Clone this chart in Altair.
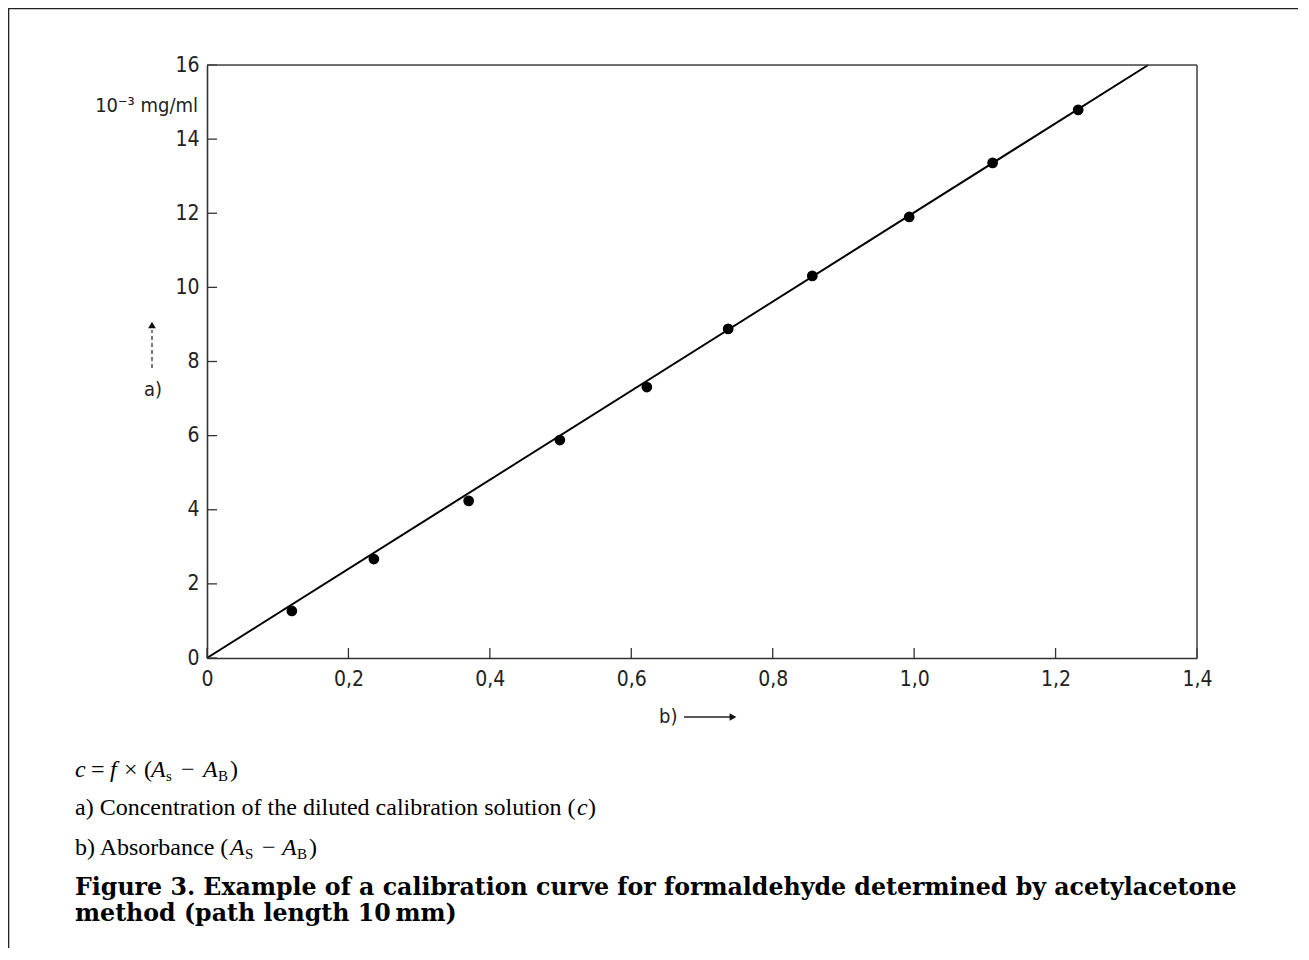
import altair as alt
import pandas as pd

# ---- data ----
absorbance = [0.120, 0.236, 0.370, 0.499, 0.622, 0.737, 0.856, 0.993, 1.111, 1.232]
concentration = [1.27, 2.67, 4.24, 5.88, 7.31, 8.88, 10.31, 11.90, 13.36, 14.79]
fit_x = [0.0, 1.331]
fit_y = [0.0, 16.0]
x_ticks = [0.0, 0.2, 0.4, 0.6, 0.8, 1.0, 1.2, 1.4]
y_ticks = [0, 2, 4, 6, 8, 10, 12, 14, 16]

W, H = 990, 593          # plot area
PL, PT = 199, 57         # padding left/top (page margin 8 -> plot at 207,65)
TOTAL_W, TOTAL_H = 1290, 940

AX_FONT = "Liberation Sans Narrow, DejaVu Sans Condensed, Liberation Sans, sans-serif"
SERIF = "Liberation Serif, DejaVu Serif, serif"
BOLD_SERIF = "DejaVu Serif, Liberation Serif, serif"

def px(x):
    return x - (PL + 8)

def py(y):
    return y - (PT + 8)

pts = pd.DataFrame({"x": absorbance, "y": concentration})
fit = pd.DataFrame({"x": fit_x, "y": fit_y})
xt = pd.DataFrame({"x": x_ticks})
yt = pd.DataFrame({"y": y_ticks})
one = pd.DataFrame({"k": [0]})

xs = alt.Scale(domain=[0, 1.4], nice=False, zero=True)
ys = alt.Scale(domain=[0, 16], nice=False, zero=True)

x_axis = alt.Axis(values=x_ticks, ticks=False, grid=False, domainColor="#333",
                  domainWidth=1.6, labelFont=AX_FONT, labelFontSize=21, labelFlush=False,
                  labelColor="#222", labelPadding=10, title=None,
                  labelExpr="datum.value == 0 ? '0' : replace(format(datum.value, '.1f'), '.', ',')")
y_axis = alt.Axis(values=y_ticks, ticks=False, grid=False, domainColor="#333",
                  domainWidth=1.6, labelFont=AX_FONT, labelFontSize=21, labelFlush=False,
                  labelColor="#222", labelPadding=8, title=None, format="d")

line = alt.Chart(fit).mark_line(color="black", strokeWidth=2).encode(
    x=alt.X("x:Q", scale=xs, axis=x_axis),
    y=alt.Y("y:Q", scale=ys, axis=y_axis),
)
points = alt.Chart(pts).mark_circle(color="black", size=115, opacity=1).encode(
    x=alt.X("x:Q", scale=xs), y=alt.Y("y:Q", scale=ys)
)
xticks = alt.Chart(xt).mark_rule(color="#333", strokeWidth=1.3).encode(
    x=alt.X("x:Q", scale=xs), y=alt.value(H), y2=alt.value(H - 10)
)
yticks = alt.Chart(yt).mark_rule(color="#333", strokeWidth=1.3).encode(
    y=alt.Y("y:Q", scale=ys), x=alt.value(0), x2=alt.value(10)
)
top_edge = alt.Chart(one).mark_rule(color="#444", strokeWidth=1.5).encode(
    x=alt.value(0), x2=alt.value(W), y=alt.value(0)
)
right_edge = alt.Chart(one).mark_rule(color="#444", strokeWidth=1.5).encode(
    x=alt.value(W), y=alt.value(0), y2=alt.value(H)
)

frame = alt.Chart(one).mark_rect(fill="white", fillOpacity=0, stroke="#222", strokeWidth=1.6).encode(
    x=alt.value(px(8.5)), x2=alt.value(2000), y=alt.value(py(8.5)), y2=alt.value(2000)
)

def txt(s, x, y, font=AX_FONT, size=20, align="left", style="normal", weight="normal",
        color="#222", baseline="middle"):
    return alt.Chart(one).mark_text(text=s, font=font, fontSize=size, align=align,
                                    baseline=baseline, fontStyle=style, fontWeight=weight,
                                    color=color).encode(x=alt.value(px(x)), y=alt.value(py(y)))

labels = [
    txt("10\u207b\u00b3 mg/ml", 198, 106, size=20, align="right"),
    txt("a)", 153, 390, size=20, align="center"),
    txt("b)", 659, 717, size=20),
]
arrow_a = alt.Chart(one).mark_rule(color="#222", strokeWidth=1.2, strokeDash=[4, 3]).encode(
    x=alt.value(px(152)), y=alt.value(py(368)), y2=alt.value(py(330))
)
arrow_a_head = alt.Chart(one).mark_point(shape="triangle-up", filled=True, color="#111",
                                         size=60, opacity=1).encode(
    x=alt.value(px(152)), y=alt.value(py(325))
)
arrow_b = alt.Chart(one).mark_rule(color="#222", strokeWidth=1.3).encode(
    x=alt.value(px(684)), x2=alt.value(px(730)), y=alt.value(py(717))
)
arrow_b_head = alt.Chart(one).mark_point(shape="triangle-right", filled=True, color="#111",
                                         size=60, opacity=1).encode(
    x=alt.value(px(733)), y=alt.value(py(717))
)

CS = 24   # caption font size
SUB = 15
K = "black"
cap = [
    # c = f x (As - AB)
    txt("c", 75, 770, font=SERIF, size=CS, style="italic", color=K),
    txt("=", 91, 770, font=SERIF, size=CS, color=K),
    txt("f", 110, 770, font=SERIF, size=CS, style="italic", color=K),
    txt("\u00d7", 124, 770, font=SERIF, size=CS, color=K),
    txt("(", 144, 770, font=SERIF, size=CS, color=K),
    txt("A", 151, 770, font=SERIF, size=CS, style="italic", color=K),
    txt("s", 166, 776, font=SERIF, size=SUB, color=K),
    txt("\u2212", 181, 770, font=SERIF, size=CS, color=K),
    txt("A", 203, 770, font=SERIF, size=CS, style="italic", color=K),
    txt("B", 218, 776, font=SERIF, size=SUB, color=K),
    txt(")", 230, 770, font=SERIF, size=CS, color=K),
    # a) line
    txt("a) Concentration of the diluted calibration solution (", 75, 808, font=SERIF, size=CS, color=K),
    txt("c", 577, 808, font=SERIF, size=CS, style="italic", color=K),
    txt(")", 588, 808, font=SERIF, size=CS, color=K),
    # b) line
    txt("b) Absorbance (", 75, 848, font=SERIF, size=CS, color=K),
    txt("A", 230, 848, font=SERIF, size=CS, style="italic", color=K),
    txt("S", 245, 854, font=SERIF, size=SUB, color=K),
    txt("\u2212", 262, 848, font=SERIF, size=CS, color=K),
    txt("A", 282, 848, font=SERIF, size=CS, style="italic", color=K),
    txt("B", 297, 854, font=SERIF, size=SUB, color=K),
    txt(")", 309, 848, font=SERIF, size=CS, color=K),
    # title
    txt("Figure 3. Example of a calibration curve for formaldehyde determined by acetylacetone",
        75, 888, font=BOLD_SERIF, size=23.7, weight="bold", color=K),
    txt("method (path length 10\u2009mm)", 75, 914, font=BOLD_SERIF, size=23.7, weight="bold", color=K),
]

chart = alt.layer(
    frame, line, points, xticks, yticks, top_edge, right_edge,
    arrow_a, arrow_a_head, arrow_b, arrow_b_head,
    *labels, *cap
).properties(
    width=W, height=H,
    autosize=alt.AutoSizeParams(type="none"),
    padding={"left": PL, "top": PT, "right": TOTAL_W - PL - W, "bottom": TOTAL_H - PT - H},
).configure_view(stroke="transparent", strokeWidth=0).configure(background="white")

chart.save("out.html", embed_options={"renderer": "svg", "actions": False})
